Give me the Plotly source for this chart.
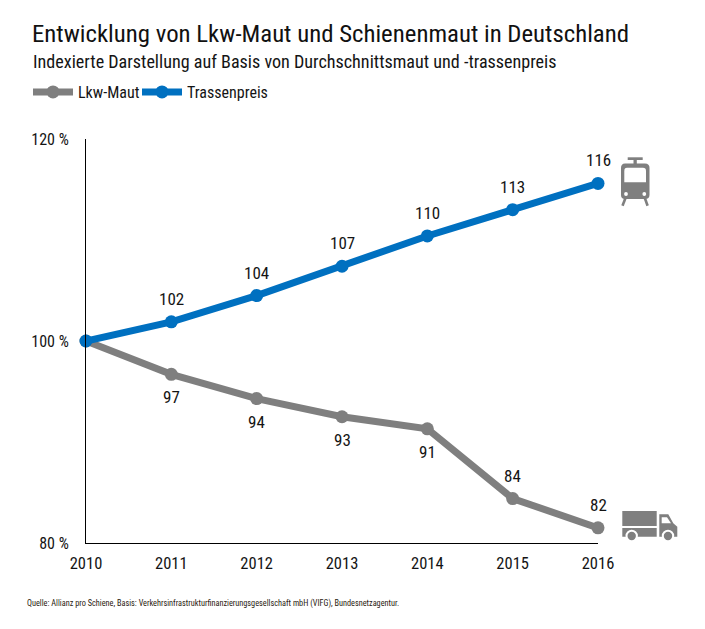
import plotly.graph_objects as go

PAGE_OFFSET = 8  # the browser's default body margin
W, H = 705 - PAGE_OFFSET, 629 - PAGE_OFFSET
L, R, T, B = 78, 107, 131, 86
FONT = "Liberation Sans Narrow, Roboto Condensed, Roboto, sans-serif"
INK = "#141414"

years = [2010, 2011, 2012, 2013, 2014, 2015, 2016]
lkw_maut = [100, 96.7, 94.3, 92.5, 91.3, 84.4, 81.5]
trassenpreis = [100, 101.9, 104.5, 107.4, 110.4, 113.0, 115.6]
lkw_labels = ["", "97", "94", "93", "91", "84", "82"]
trassen_labels = ["", "102", "104", "107", "110", "113", "116"]
lkw_label_side = [0, -1, -1, -1, -1, 1, 1]
y_ticks = [80, 100, 120]
y_tick_labels = ["80 %", "100 %", "120 %"]
title = "Entwicklung von Lkw-Maut und Schienenmaut in Deutschland"
subtitle = "Indexierte Darstellung auf Basis von Durchschnittsmaut und -trassenpreis"
source = "Quelle: Allianz pro Schiene, Basis: Verkehrsinfrastrukturfinanzierungsgesellschaft mbH (VIFG), Bundesnetzagentur."

GRAY, BLUE = "#7f7f7f", "#0070c0"

fig = go.Figure()
fig.add_trace(go.Scatter(x=years, y=lkw_maut, name="Lkw-Maut", mode="lines+markers",
                         line=dict(color=GRAY, width=7), marker=dict(color=GRAY, size=13),
                         cliponaxis=False, legend="legend", showlegend=True))
fig.add_trace(go.Scatter(x=years, y=trassenpreis, name="Trassenpreis", mode="lines+markers",
                         line=dict(color=BLUE, width=7), marker=dict(color=BLUE, size=13),
                         cliponaxis=False, legend="legend2", showlegend=True))

pw, ph = W - L - R, H - T - B


def X(p):
    return (p - PAGE_OFFSET - L) / pw


def Y(p):
    return 1 - (p - PAGE_OFFSET - T) / ph


def path(points, color=GRAY):
    """Closed polygon / curve through page-pixel points; 'Q' entries are corner controls."""
    d = ""
    for i, pt in enumerate(points):
        if pt[0] == "Q":
            d += f"Q{X(pt[1])},{Y(pt[2])} {X(pt[3])},{Y(pt[4])} "
        else:
            d += ("M" if i == 0 else "L") + f"{X(pt[0])},{Y(pt[1])} "
    return dict(type="path", xref="paper", yref="paper", path=d + "Z", fillcolor=color,
                line=dict(width=0), layer="above")


def rect(x0, y0, x1, y1, color=GRAY):
    return dict(type="rect", xref="paper", yref="paper", x0=X(x0), x1=X(x1), y0=Y(y0), y1=Y(y1),
                fillcolor=color, line=dict(width=0), layer="above")


def disc(cx, cy, r, color=GRAY, lw=0):
    return dict(type="circle", xref="paper", yref="paper", x0=X(cx - r), x1=X(cx + r),
                y0=Y(cy - r), y1=Y(cy + r), fillcolor=color,
                line=dict(width=lw, color="white"), layer="above")


def seg(x0, y0, x1, y1, w=2.6):
    return dict(type="line", xref="paper", yref="paper", x0=X(x0), x1=X(x1), y0=Y(y0), y1=Y(y1),
                line=dict(color=GRAY, width=w), layer="above")


icons = [
    # tram
    rect(627.7, 157.3, 642.7, 160), rect(633.5, 160, 636.8, 164),
    path([(625, 163.5), (645, 163.5), ("Q", 649.5, 163.5, 649.5, 168), (649.5, 195),
          ("Q", 649.5, 199, 645, 199), (625, 199), ("Q", 621, 199, 621, 195), (621, 168),
          ("Q", 621, 163.5, 625, 163.5)]),
    path([(627, 167.7), (643, 167.7), ("Q", 646, 167.7, 646, 171), (646, 182.3), (624.3, 182.3),
          (624.3, 171), ("Q", 624.3, 167.7, 627, 167.7)], "white"),
    disc(626, 194, 1.9, "white"), disc(644.3, 194, 1.9, "white"),
    seg(625.3, 198.5, 622.5, 205.7), seg(645, 198.5, 647.6, 205.7),
    # truck
    rect(622.3, 511, 656.7, 526), rect(622.3, 528, 656.7, 536.7),
    path([(659.3, 514.3), (668.3, 514.3), (673.3, 523.3), (677.3, 526.7), (677.3, 536.7), (659.3, 536.7)]),
    path([(661.7, 517.3), (667, 517.3), (671, 523.3), (661.7, 523.3)], "white"),
    disc(631.7, 536, 5.2, GRAY, 2), disc(668, 536, 5.2, GRAY, 2),
]

labels = []
for yr, val, txt, side in zip(years, lkw_maut, lkw_labels, lkw_label_side):
    if txt:
        labels.append(dict(x=yr, y=val, text=txt, yshift=23 * side, showarrow=False,
                           font=dict(size=17, color=INK, family=FONT)))
for yr, val, txt in zip(years, trassenpreis, trassen_labels):
    if txt:
        labels.append(dict(x=yr, y=val, text=txt, yshift=23, showarrow=False,
                           font=dict(size=17, color=INK, family=FONT)))
labels.append(dict(text=subtitle, xref="paper", yref="paper", x=X(33), y=Y(61), xanchor="left", yanchor="middle",
                   showarrow=False, xshift=-2, font=dict(size=18.1, color=INK, family=FONT)))
labels.append(dict(text=source, xref="paper", yref="paper", x=X(25), y=Y(603), xanchor="left", yanchor="middle",
                   showarrow=False, font=dict(size=8.25, color="#2a1a10", family=FONT)))

legend_style = dict(orientation="h", xanchor="left", y=1 + 47 / ph, yanchor="middle",
                    font=dict(size=16, color=INK, family=FONT), itemwidth=40,
                    bgcolor="rgba(0,0,0,0)")

fig.update_layout(
    width=W, height=H, margin=dict(l=L, r=R, t=T, b=B),
    showlegend=True,
    paper_bgcolor="white", plot_bgcolor="white",
    font=dict(family=FONT, size=16, color=INK),
    title=dict(text=title, xref="container", x=(33 - PAGE_OFFSET - 1) / W, xanchor="left",
               yref="container", y=1 - (33 - PAGE_OFFSET) / H, yanchor="middle",
               font=dict(size=24.8, color="#111111", family=FONT)),
    legend=dict(x=X(28), **legend_style),
    legend2=dict(x=X(137), **legend_style),
    xaxis=dict(range=[2010, 2016], tickvals=years, showgrid=False, zeroline=False,
               showline=True, linecolor="black", linewidth=1,
               ticks="outside", ticklen=5, tickcolor="rgba(0,0,0,0)",
               tickfont=dict(size=16.5, color=INK, family=FONT)),
    yaxis=dict(range=[80, 120], tickvals=y_ticks, ticktext=y_tick_labels, showgrid=False, zeroline=False,
               showline=True, linecolor="black", linewidth=1,
               ticks="outside", ticklen=13, tickcolor="rgba(0,0,0,0)",
               tickfont=dict(size=16, color=INK, family=FONT)),
    shapes=icons,
    annotations=labels,
)

fig.write_html("out.html")
